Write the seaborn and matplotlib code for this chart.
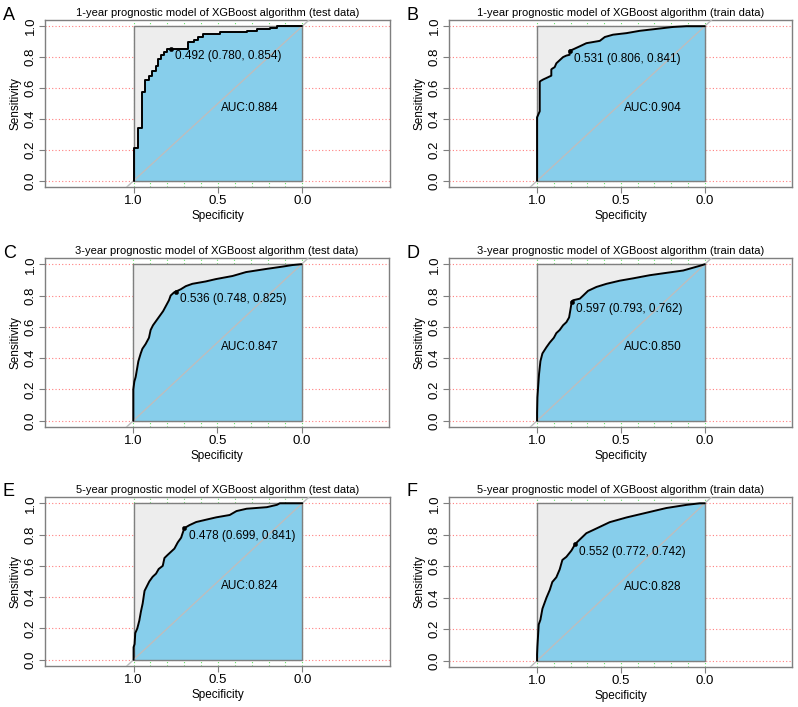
import numpy as np
import pandas as pd
import matplotlib
matplotlib.use("Agg")
import matplotlib.pyplot as plt
import seaborn as sns

# ROC curve vertices (specificity, sensitivity)
spec_a = [1.0, 1.0, 0.975, 0.95, 0.93, 0.91, 0.89, 0.87, 0.855, 0.84, 0.82, 0.80, 0.78, 0.68, 0.64, 0.62, 0.59, 0.49, 0.33, 0.27, 0.19, 0.15, 0.0]
sens_a = [0.0, 0.21, 0.34, 0.575, 0.65, 0.68, 0.71, 0.74, 0.79, 0.815, 0.835, 0.85, 0.854, 0.90, 0.91, 0.93, 0.95, 0.96, 0.97, 0.985, 0.99, 1.0, 1.0]

spec_b = [1.0, 1.0, 0.992, 0.984, 0.984, 0.98, 0.964, 0.944, 0.915, 0.915, 0.91, 0.895, 0.885, 0.865, 0.845, 0.825, 0.806, 0.806, 0.785, 0.745, 0.706, 0.626, 0.596, 0.547, 0.467, 0.388, 0.268, 0.19, 0.11, 0.0]
sens_b = [0.0, 0.41, 0.43, 0.45, 0.64, 0.645, 0.655, 0.665, 0.68, 0.72, 0.725, 0.735, 0.76, 0.78, 0.80, 0.81, 0.815, 0.841, 0.85, 0.87, 0.89, 0.905, 0.93, 0.945, 0.955, 0.97, 0.985, 0.995, 1.0, 1.0]

spec_c = [1.0, 1.0, 0.994, 0.986, 0.978, 0.97, 0.956, 0.946, 0.927, 0.907, 0.897, 0.883, 0.863, 0.843, 0.823, 0.808, 0.788, 0.778, 0.758, 0.748, 0.718, 0.688, 0.649, 0.57, 0.51, 0.41, 0.33, 0.21, 0.113, 0.054, 0.004, 0.0]
sens_c = [0.0, 0.20, 0.25, 0.28, 0.33, 0.38, 0.43, 0.46, 0.49, 0.53, 0.58, 0.61, 0.64, 0.67, 0.70, 0.73, 0.77, 0.80, 0.82, 0.825, 0.84, 0.86, 0.875, 0.89, 0.905, 0.925, 0.95, 0.97, 0.985, 0.995, 1.0, 1.0]

spec_d = [1.0, 1.0, 0.998, 0.988, 0.98, 0.968, 0.944, 0.924, 0.90, 0.885, 0.865, 0.845, 0.825, 0.809, 0.801, 0.793, 0.785, 0.745, 0.725, 0.696, 0.646, 0.586, 0.507, 0.427, 0.328, 0.229, 0.129, 0.03, 0.0]
sens_d = [0.0, 0.05, 0.15, 0.30, 0.38, 0.43, 0.47, 0.50, 0.53, 0.56, 0.58, 0.61, 0.63, 0.66, 0.71, 0.762, 0.77, 0.78, 0.80, 0.83, 0.855, 0.875, 0.895, 0.91, 0.93, 0.945, 0.96, 0.99, 1.0]

spec_e = [1.0, 1.0, 0.994, 0.99, 0.978, 0.966, 0.956, 0.946, 0.935, 0.907, 0.887, 0.867, 0.851, 0.827, 0.817, 0.798, 0.778, 0.758, 0.738, 0.718, 0.712, 0.699, 0.669, 0.629, 0.57, 0.51, 0.43, 0.39, 0.33, 0.21, 0.15, 0.133, 0.0]
sens_e = [0.0, 0.08, 0.10, 0.17, 0.20, 0.25, 0.31, 0.36, 0.44, 0.50, 0.53, 0.55, 0.58, 0.60, 0.65, 0.67, 0.69, 0.71, 0.75, 0.78, 0.80, 0.841, 0.86, 0.88, 0.895, 0.91, 0.925, 0.95, 0.965, 0.975, 0.99, 1.0, 1.0]

spec_f = [1.0, 1.0, 0.998, 0.99, 0.98, 0.968, 0.944, 0.924, 0.909, 0.885, 0.865, 0.849, 0.825, 0.795, 0.772, 0.745, 0.706, 0.646, 0.567, 0.467, 0.348, 0.229, 0.109, 0.03, 0.0]
sens_f = [0.0, 0.04, 0.09, 0.23, 0.26, 0.33, 0.40, 0.45, 0.50, 0.53, 0.58, 0.64, 0.66, 0.70, 0.742, 0.77, 0.81, 0.84, 0.88, 0.91, 0.94, 0.97, 0.99, 1.0, 1.0]

letters = ["A", "B", "C", "D", "E", "F"]
titles = [
    "1-year prognostic model of XGBoost algorithm (test data)",
    "1-year prognostic model of XGBoost algorithm (train data)",
    "3-year prognostic model of XGBoost algorithm (test data)",
    "3-year prognostic model of XGBoost algorithm (train data)",
    "5-year prognostic model of XGBoost algorithm (test data)",
    "5-year prognostic model of XGBoost algorithm (train data)",
]
auc_values = [0.884, 0.904, 0.847, 0.850, 0.824, 0.828]
best_thres = [0.492, 0.531, 0.536, 0.597, 0.478, 0.552]
best_spec = [0.780, 0.806, 0.748, 0.793, 0.699, 0.772]
best_sens = [0.854, 0.841, 0.825, 0.762, 0.841, 0.742]

curves = [(spec_a, sens_a), (spec_b, sens_b), (spec_c, sens_c),
          (spec_d, sens_d), (spec_e, sens_e), (spec_f, sens_f)]
# small test set in A gives a visibly stepped curve, the rest look smooth
stepped = [True, False, False, False, False, False]

sns.set_style("white")
plt.rcParams['font.family'] = ['Liberation Sans', 'DejaVu Sans']
plt.rcParams['text.color'] = 'black'
plt.rcParams['axes.labelcolor'] = 'black'
plt.rcParams['xtick.color'] = 'black'
plt.rcParams['ytick.color'] = 'black'

W, H = 798, 707
fig = plt.figure(figsize=(W / 100, H / 100), dpi=100)

# axes boxes in pixels: left, right, top, bottom
boxes = [
    (45, 390, 20, 187), (449, 792, 20, 187),
    (45, 389, 258, 427), (449, 792, 258, 427),
    (45, 390, 497, 666), (449, 792, 497, 667),
]

frame_col = "#7f7f7f"

for i, (l, r, t, b) in enumerate(boxes):
    ax = fig.add_axes([l / W, 1 - b / H, (r - l) / W, (b - t) / H])
    spec, sens = curves[i]
    df = pd.DataFrame({"Specificity": spec, "Sensitivity": sens})
    ds = "steps-post" if stepped[i] else "default"

    ax.set_xlim(1.525, -0.52)
    ax.set_ylim(-0.04, 1.04)

    # dotted grids (behind the polygons)
    for gx in np.arange(0, 1.01, 0.1):
        ax.axvline(gx, color="#66dd66", ls=(0, (1, 2)), lw=0.8, zorder=0)
    for gy in np.arange(0, 1.01, 0.2):
        ax.axhline(gy, color="#ff7f7f", ls=(0, (1, 2)), lw=0.8, zorder=0)

    # max AUC polygon and AUC polygon
    ax.fill_between([1, 0], [0, 0], [1, 1], color="#ededed", zorder=1)
    ax.fill_between(df["Specificity"], 0, df["Sensitivity"],
                    step="post" if stepped[i] else None,
                    color="#87ceeb", lw=0, zorder=2)
    ax.plot([1, 0, 0, 1, 1], [0, 0, 1, 1, 0], color=frame_col, lw=1, zorder=3)

    # diagonal
    ax.plot([2, -1], [-1, 2], color="#bdbdbd", lw=1, zorder=3)

    sns.lineplot(data=df, x="Specificity", y="Sensitivity", sort=False,
                 estimator=None, drawstyle=ds, color="black",
                 lw=1.4, ax=ax, zorder=4)
    sns.scatterplot(x=[best_spec[i]], y=[best_sens[i]], color="black", s=10,
                    edgecolor="black", ax=ax, zorder=5)

    ax.text(best_spec[i] - 0.025, best_sens[i] - 0.05,
            f"{best_thres[i]:.3f} ({best_spec[i]:.3f}, {best_sens[i]:.3f})",
            ha="left", va="center", fontsize=8.5, zorder=6)
    ax.text(0.48, 0.47, f"AUC:{auc_values[i]:.3f}", ha="left", va="center",
            fontsize=8.5, zorder=6)

    ax.set_xticks([1.0, 0.5, 0.0])
    ax.set_xticklabels(["1.0", "0.5", "0.0"])
    ax.set_yticks(np.arange(0, 1.01, 0.2))
    ax.set_yticklabels([f"{v:.1f}" for v in np.arange(0, 1.01, 0.2)],
                       rotation=90, va="center")
    ax.tick_params(axis="both", direction="out", length=4, width=0.8,
                   color=frame_col, labelsize=9.5, pad=2, bottom=True, left=True)
    for s in ax.spines.values():
        s.set_color(frame_col)
        s.set_linewidth(1)
    ax.set_xlabel("Specificity", fontsize=8.5, labelpad=2)
    ax.set_ylabel("Sensitivity", fontsize=8.5, labelpad=2)
    ax.set_title(titles[i], fontsize=8, pad=3)
    fig.text((l - 42) / W, 1 - (t - 5) / H, letters[i], fontsize=13,
             ha="left", va="center")

fig.savefig("out.png", dpi=100)
